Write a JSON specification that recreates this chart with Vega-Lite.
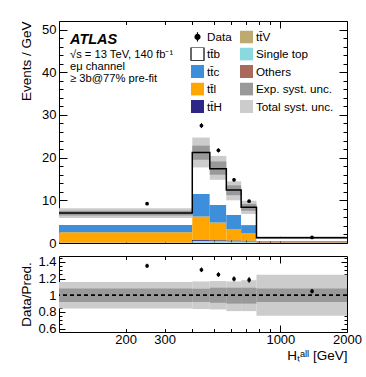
{
  "$schema": "https://vega.github.io/schema/vega-lite/v6.json",
  "padding": {"left": 18, "top": 20, "right": 0, "bottom": 0},
  "config": {
    "font": "Liberation Sans",
    "view": {"stroke": "black", "strokeWidth": 1},
    "axis": {"domain": false, "grid": false, "labelFont": "Liberation Sans", "labelFontSize": 13, "labelColor": "black", "tickColor": "black", "tickWidth": 1, "titleColor": "black", "titleFont": "Liberation Sans", "titleFontSize": 13.5, "titleFontWeight": "normal", "labelFlush": false, "labelOverlap": false}
  },
  "datasets": {
    "stack": [
      {"lo": 100, "hi": 400, "proc": "Others", "ord": 1, "v": 0.03},
      {"lo": 100, "hi": 400, "proc": "Single top", "ord": 2, "v": 0.04},
      {"lo": 100, "hi": 400, "proc": "tt\u0304V", "ord": 3, "v": 0.02},
      {"lo": 100, "hi": 400, "proc": "tt\u0304H", "ord": 4, "v": 0.03},
      {"lo": 100, "hi": 400, "proc": "tt\u0304l", "ord": 5, "v": 2.38},
      {"lo": 100, "hi": 400, "proc": "tt\u0304c", "ord": 6, "v": 1.72},
      {"lo": 100, "hi": 400, "proc": "tt\u0304b", "ord": 7, "v": 2.78},
      {"lo": 400, "hi": 480, "proc": "Others", "ord": 1, "v": 0.05},
      {"lo": 400, "hi": 480, "proc": "Single top", "ord": 2, "v": 0.35},
      {"lo": 400, "hi": 480, "proc": "tt\u0304V", "ord": 3, "v": 0.1},
      {"lo": 400, "hi": 480, "proc": "tt\u0304H", "ord": 4, "v": 0.2},
      {"lo": 400, "hi": 480, "proc": "tt\u0304l", "ord": 5, "v": 5.5},
      {"lo": 400, "hi": 480, "proc": "tt\u0304c", "ord": 6, "v": 5.3},
      {"lo": 400, "hi": 480, "proc": "tt\u0304b", "ord": 7, "v": 9.7},
      {"lo": 480, "hi": 570, "proc": "Others", "ord": 1, "v": 0.05},
      {"lo": 480, "hi": 570, "proc": "Single top", "ord": 2, "v": 0.3},
      {"lo": 480, "hi": 570, "proc": "tt\u0304V", "ord": 3, "v": 0.1},
      {"lo": 480, "hi": 570, "proc": "tt\u0304H", "ord": 4, "v": 0.2},
      {"lo": 480, "hi": 570, "proc": "tt\u0304l", "ord": 5, "v": 4.15},
      {"lo": 480, "hi": 570, "proc": "tt\u0304c", "ord": 6, "v": 4.1},
      {"lo": 480, "hi": 570, "proc": "tt\u0304b", "ord": 7, "v": 8.5},
      {"lo": 570, "hi": 665, "proc": "Others", "ord": 1, "v": 0.05},
      {"lo": 570, "hi": 665, "proc": "Single top", "ord": 2, "v": 0.25},
      {"lo": 570, "hi": 665, "proc": "tt\u0304V", "ord": 3, "v": 0.1},
      {"lo": 570, "hi": 665, "proc": "tt\u0304H", "ord": 4, "v": 0.2},
      {"lo": 570, "hi": 665, "proc": "tt\u0304l", "ord": 5, "v": 2.6},
      {"lo": 570, "hi": 665, "proc": "tt\u0304c", "ord": 6, "v": 3.4},
      {"lo": 570, "hi": 665, "proc": "tt\u0304b", "ord": 7, "v": 5.8},
      {"lo": 665, "hi": 780, "proc": "Others", "ord": 1, "v": 0.05},
      {"lo": 665, "hi": 780, "proc": "Single top", "ord": 2, "v": 0.25},
      {"lo": 665, "hi": 780, "proc": "tt\u0304V", "ord": 3, "v": 0.08},
      {"lo": 665, "hi": 780, "proc": "tt\u0304H", "ord": 4, "v": 0.17},
      {"lo": 665, "hi": 780, "proc": "tt\u0304l", "ord": 5, "v": 1.7},
      {"lo": 665, "hi": 780, "proc": "tt\u0304c", "ord": 6, "v": 1.95},
      {"lo": 665, "hi": 780, "proc": "tt\u0304b", "ord": 7, "v": 4.2},
      {"lo": 780, "hi": 2000, "proc": "Others", "ord": 1, "v": 0.03},
      {"lo": 780, "hi": 2000, "proc": "Single top", "ord": 2, "v": 0.05},
      {"lo": 780, "hi": 2000, "proc": "tt\u0304V", "ord": 3, "v": 0.05},
      {"lo": 780, "hi": 2000, "proc": "tt\u0304H", "ord": 4, "v": 0.02},
      {"lo": 780, "hi": 2000, "proc": "tt\u0304l", "ord": 5, "v": 0.15},
      {"lo": 780, "hi": 2000, "proc": "tt\u0304c", "ord": 6, "v": 0.15},
      {"lo": 780, "hi": 2000, "proc": "tt\u0304b", "ord": 7, "v": 0.8}
    ],
    "bins": [
      {"lo": 100, "hi": 400, "tlo": 5.88, "thi": 8.12, "elo": 6.44, "ehi": 7.56, "rtlo": 0.84, "rthi": 1.16, "relo": 0.92, "rehi": 1.08},
      {"lo": 400, "hi": 480, "tlo": 17.7, "thi": 24.7, "elo": 19.5, "ehi": 22.8, "rtlo": 0.835, "rthi": 1.165, "relo": 0.92, "rehi": 1.078},
      {"lo": 480, "hi": 570, "tlo": 14.8, "thi": 20.4, "elo": 16.0, "ehi": 19.1, "rtlo": 0.83, "rthi": 1.17, "relo": 0.91, "rehi": 1.09},
      {"lo": 570, "hi": 665, "tlo": 10.0, "thi": 14.45, "elo": 11.2, "ehi": 13.5, "rtlo": 0.81, "rthi": 1.165, "relo": 0.9, "rehi": 1.09},
      {"lo": 665, "hi": 780, "tlo": 6.8, "thi": 9.9, "elo": 7.55, "ehi": 9.15, "rtlo": 0.81, "rthi": 1.18, "relo": 0.9, "rehi": 1.09},
      {"lo": 780, "hi": 2000, "tlo": 0.94, "thi": 1.56, "elo": 1.15, "ehi": 1.35, "rtlo": 0.755, "rthi": 1.245, "relo": 0.92, "rehi": 1.08}
    ],
    "outline": [
      {"x": 100, "y": 7.0},
      {"x": 400, "y": 21.2},
      {"x": 480, "y": 17.4},
      {"x": 570, "y": 12.4},
      {"x": 665, "y": 8.4},
      {"x": 780, "y": 1.25},
      {"x": 2000, "y": 1.25}
    ],
    "obs": [
      {"xc": 250, "d": 9.2, "dlo": 9.03, "dhi": 9.37, "r": 1.353, "rlo": 1.328, "rhi": 1.378},
      {"xc": 440, "d": 27.5, "dlo": 26.91, "dhi": 28.09, "r": 1.305, "rlo": 1.277, "rhi": 1.333},
      {"xc": 525, "d": 21.7, "dlo": 21.21, "dhi": 22.19, "r": 1.248, "rlo": 1.22, "rhi": 1.276},
      {"xc": 617.5, "d": 14.8, "dlo": 14.41, "dhi": 15.19, "r": 1.196, "rlo": 1.165, "rhi": 1.227},
      {"xc": 722.5, "d": 9.8, "dlo": 9.51, "dhi": 10.09, "r": 1.184, "rlo": 1.149, "rhi": 1.219},
      {"xc": 1390, "d": 1.3, "dlo": 1.265, "dhi": 1.335, "r": 1.048, "rlo": 1.02, "rhi": 1.076}
    ]
  },
  "resolve": {"scale": {"color": "independent"}, "legend": {"color": "independent"}},
  "spacing": 4,
  "vconcat": [
    {
      "width": 288,
      "height": 222,
      "title": {
        "text": "ATLAS",
        "subtitle": ["\u221As = 13 TeV, 140 fb\u207B\u00B9", "e\u03BC channel", "\u2265 3b@77% pre-fit"],
        "anchor": "start", "frame": "group", "orient": "top", "offset": -65, "dx": 11,
        "font": "Liberation Sans", "fontSize": 14.5, "fontStyle": "italic", "fontWeight": "bold", "color": "black",
        "subtitleFont": "Liberation Sans", "subtitleFontSize": 11.2, "subtitleColor": "black", "subtitlePadding": 1.5, "subtitleLineHeight": 12
      },
      "resolve": {"axis": {"x": "independent", "y": "independent"}},
      "layer": [
        {
          "data": {"name": "stack"},
          "transform": [{"stack": "v", "groupby": ["lo"], "sort": [{"field": "ord", "order": "ascending"}], "as": ["y0", "y1"]}],
          "mark": {"type": "rect", "strokeWidth": 0},
          "encoding": {
            "x": {"field": "lo", "type": "quantitative", "scale": {"type": "log", "domain": [100, 2000], "nice": false},
                  "axis": {"orient": "bottom", "values": [200, 300, 400, 500, 600, 700, 800, 900], "labels": false, "tickSize": -3.5, "title": null}},
            "x2": {"field": "hi"},
            "y": {"field": "y0", "type": "quantitative", "scale": {"domain": [0, 52], "nice": false, "zero": false},
                  "axis": {"orient": "left", "values": [0, 10, 20, 30, 40, 50], "tickSize": -8, "labelPadding": 11, "title": "Events / GeV", "titleAnchor": "end", "titleX": -28.5, "titleBaseline": "alphabetic", "titleAngle": -90}},
            "y2": {"field": "y1"},
            "color": {
              "field": "proc", "type": "nominal",
              "scale": {
                "domain": ["Data", "tt\u0304b", "tt\u0304c", "tt\u0304l", "tt\u0304H", "tt\u0304V", "Single top", "Others", "Exp. syst. unc.", "Total syst. unc."],
                "range": ["#000000", "#ffffff", "#3d8fdc", "#ffa600", "#2c2687", "#bcaa70", "#8ad9de", "#a96a5b", "#999999", "#cccccc"]
              },
              "legend": {
                "orient": "none", "legendX": 131, "legendY": 9, "columns": 2, "columnPadding": 7, "rowPadding": 3.5, "clipHeight": 13,
                "title": null, "padding": 0, "symbolSize": 169, "symbolType": "square", "symbolStrokeWidth": 0,
                "labelFont": "Liberation Sans", "labelFontSize": 11.7, "labelColor": "black", "labelOffset": 2, "labelLimit": 200,
                "encode": {
                  "symbols": {
                    "update": {
                      "shape": {"signal": "datum.value === 'Data' ? 'M0,-0.7L0,0.7M-0.38,0A0.38,0.38,0,1,0,0.38,0A0.38,0.38,0,1,0,-0.38,0Z' : 'square'"},
                      "stroke": {"signal": "datum.value === 'Data' || datum.value === 'tt\u0304b' ? 'black' : 'transparent'"},
                      "strokeWidth": {"value": 1.2}
                    }
                  }
                }
              }
            }
          }
        },
        {
          "data": {"name": "bins"},
          "mark": {"type": "rect", "color": "#cccccc", "strokeWidth": 0},
          "encoding": {
            "x": {"field": "lo", "type": "quantitative", "axis": {"orient": "bottom", "values": [1000], "labels": false, "tickSize": -7, "title": null}},
            "x2": {"field": "hi"},
            "y": {"field": "tlo", "type": "quantitative", "axis": {"orient": "left", "values": [2,4,6,8,12,14,16,18,22,24,26,28,32,34,36,38,42,44,46,48,52], "labels": false, "tickSize": -4, "title": null}},
            "y2": {"field": "thi"}
          }
        },
        {
          "data": {"name": "bins"},
          "mark": {"type": "rect", "color": "#999999", "strokeWidth": 0},
          "encoding": {
            "x": {"field": "lo", "type": "quantitative", "axis": {"orient": "top", "values": [200, 300, 400, 500, 600, 700, 800, 900], "labels": false, "tickSize": -3.5, "title": null}},
            "x2": {"field": "hi"},
            "y": {"field": "elo", "type": "quantitative", "axis": {"orient": "right", "values": [0, 10, 20, 30, 40, 50], "labels": false, "tickSize": -8, "title": null}},
            "y2": {"field": "ehi"}
          }
        },
        {
          "data": {"name": "outline"},
          "mark": {"type": "line", "interpolate": "step-after", "color": "black", "strokeWidth": 1.5},
          "encoding": {
            "x": {"field": "x", "type": "quantitative", "axis": {"orient": "top", "values": [1000], "labels": false, "tickSize": -7, "title": null}},
            "y": {"field": "y", "type": "quantitative", "axis": {"orient": "right", "values": [2,4,6,8,12,14,16,18,22,24,26,28,32,34,36,38,42,44,46,48,52], "labels": false, "tickSize": -4, "title": null}}
          }
        },
        {
          "data": {"name": "obs"},
          "mark": {"type": "rule", "color": "black", "strokeWidth": 1},
          "encoding": {
            "x": {"field": "xc", "type": "quantitative", "axis": null},
            "y": {"field": "dlo", "type": "quantitative", "axis": null},
            "y2": {"field": "dhi"}
          }
        },
        {
          "data": {"name": "obs"},
          "mark": {"type": "point", "filled": true, "shape": "circle", "color": "black", "opacity": 1, "size": 14},
          "encoding": {
            "x": {"field": "xc", "type": "quantitative", "axis": null},
            "y": {"field": "d", "type": "quantitative", "axis": null}
          }
        }
      ]
    },
    {
      "width": 288,
      "height": 76,
      "resolve": {"axis": {"x": "independent", "y": "independent"}},
      "layer": [
        {
          "data": {"name": "bins"},
          "mark": {"type": "rect", "color": "#cccccc", "strokeWidth": 0},
          "encoding": {
            "x": {"field": "lo", "type": "quantitative", "scale": {"type": "log", "domain": [100, 2000], "nice": false},
                  "axis": {"orient": "bottom", "values": [200, 300, 400, 500, 600, 700, 800, 900, 1000, 2000], "format": "d",
                           "labelExpr": "datum.value == 200 || datum.value == 300 || datum.value == 1000 || datum.value == 2000 ? datum.label : ''",
                           "tickSize": -3.5, "labelPadding": 5, "title": "H\u209C\u1D43\u02E1\u02E1 [GeV]", "titleAnchor": "end", "titlePadding": 2}},
            "x2": {"field": "hi"},
            "y": {"field": "rtlo", "type": "quantitative", "scale": {"domain": [0.56, 1.47], "nice": false, "zero": false},
                  "axis": {"orient": "left", "values": [0.6, 0.8, 1, 1.2, 1.4], "format": "~g", "tickSize": -6, "labelPadding": 9, "title": "Data/Pred.", "titleAnchor": "middle", "titleX": -28.5, "titleBaseline": "alphabetic", "titleAngle": -90}},
            "y2": {"field": "rthi"}
          }
        },
        {
          "data": {"name": "bins"},
          "mark": {"type": "rect", "color": "#999999", "strokeWidth": 0},
          "encoding": {
            "x": {"field": "lo", "type": "quantitative", "axis": {"orient": "bottom", "values": [1000], "labels": false, "tickSize": -7, "title": null}},
            "x2": {"field": "hi"},
            "y": {"field": "relo", "type": "quantitative", "axis": {"orient": "left", "values": [0.65, 0.7, 0.75, 0.85, 0.9, 0.95, 1.05, 1.1, 1.15, 1.25, 1.3, 1.35, 1.45], "labels": false, "tickSize": -3, "title": null}},
            "y2": {"field": "rehi"}
          }
        },
        {
          "data": {"name": "bins"},
          "mark": {"type": "rule", "color": "black", "strokeWidth": 0.8, "strokeDash": [4, 3]},
          "encoding": {
            "y": {"datum": 1, "type": "quantitative", "axis": {"orient": "right", "values": [0.6, 0.8, 1, 1.2, 1.4], "labels": false, "tickSize": -6, "title": null}}
          }
        },
        {
          "data": {"name": "obs"},
          "mark": {"type": "rule", "color": "black", "strokeWidth": 1},
          "encoding": {
            "x": {"field": "xc", "type": "quantitative", "axis": {"orient": "top", "values": [200, 300, 400, 500, 600, 700, 800, 900], "labels": false, "tickSize": -3.5, "title": null}},
            "y": {"field": "rlo", "type": "quantitative", "axis": {"orient": "right", "values": [0.65, 0.7, 0.75, 0.85, 0.9, 0.95, 1.05, 1.1, 1.15, 1.25, 1.3, 1.35, 1.45], "labels": false, "tickSize": -3, "title": null}},
            "y2": {"field": "rhi"}
          }
        },
        {
          "data": {"name": "obs"},
          "mark": {"type": "point", "filled": true, "shape": "circle", "color": "black", "opacity": 1, "size": 14},
          "encoding": {
            "x": {"field": "xc", "type": "quantitative", "axis": {"orient": "top", "values": [1000], "labels": false, "tickSize": -7, "title": null}},
            "y": {"field": "r", "type": "quantitative", "axis": null}
          }
        }
      ]
    }
  ]
}
